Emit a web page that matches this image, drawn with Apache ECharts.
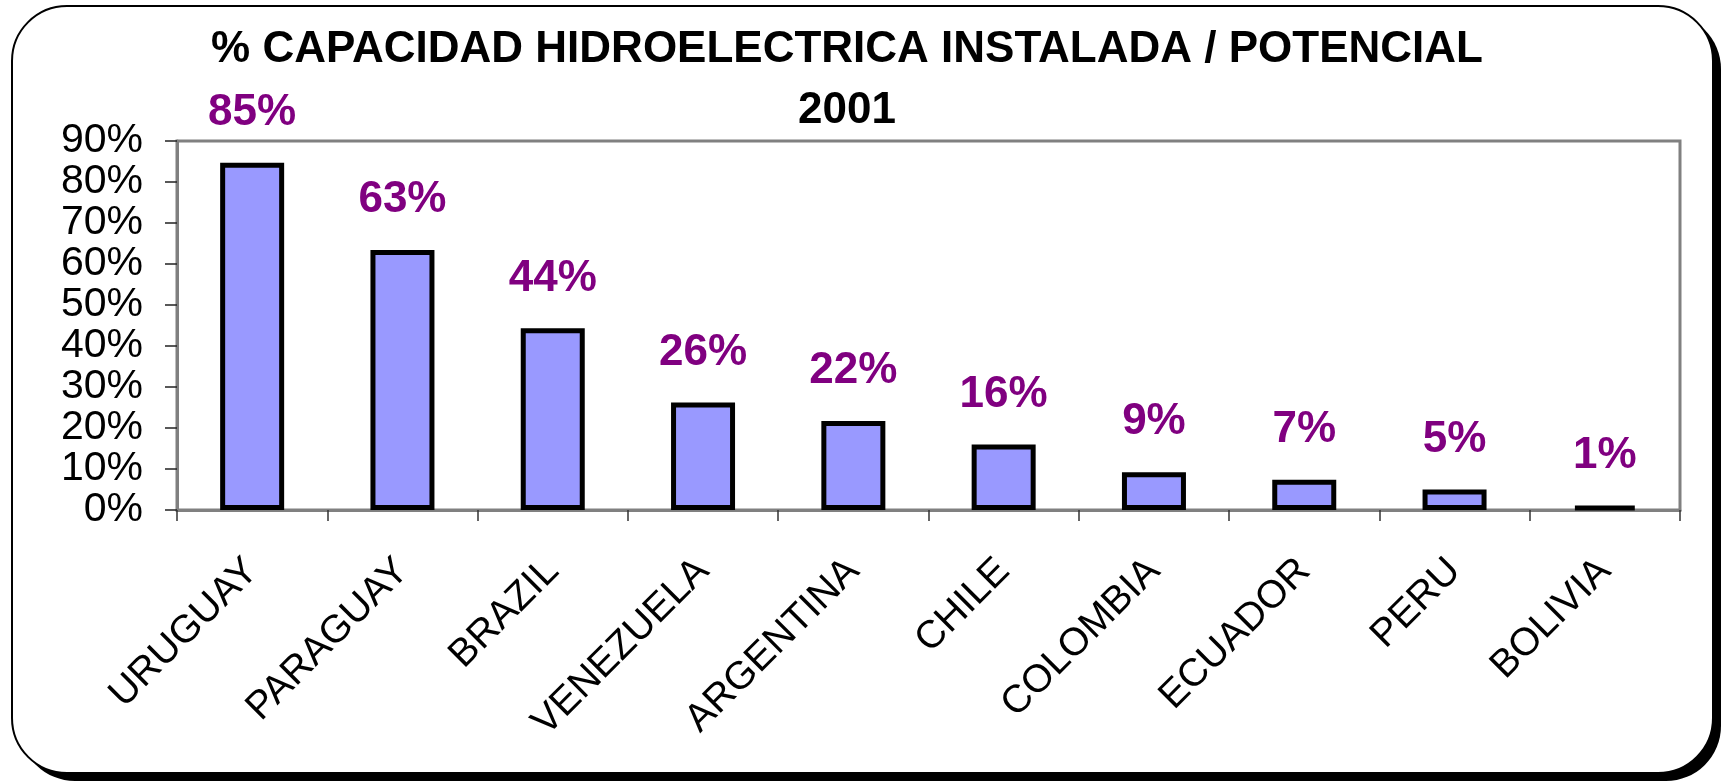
<!DOCTYPE html>
<html>
<head>
<meta charset="utf-8">
<script src="https://cdn.jsdelivr.net/npm/echarts@6/dist/echarts.min.js"></script>
<style>
  html, body { margin: 0; padding: 0; background: #fff; }
  #chart { width: 1721px; height: 783px; }
</style>
</head>
<body>
<div id="chart"></div>
<script>
// data
const countries = ['URUGUAY', 'PARAGUAY', 'BRAZIL', 'VENEZUELA', 'ARGENTINA', 'CHILE', 'COLOMBIA', 'ECUADOR', 'PERU', 'BOLIVIA'];
const capacity = [84.7, 63.4, 44.3, 26.2, 21.7, 16.0, 9.2, 7.4, 5.0, 1.0];
const yTicks = [0, 10, 20, 30, 40, 50, 60, 70, 80, 90];

const chart = echarts.init(document.getElementById('chart'));

chart.setOption({
  backgroundColor: '#fff',
  animation: false,
  textStyle: { fontFamily: 'Liberation Sans, Arial, sans-serif' },
  graphic: [
    // drop shadow of the outer frame
    {
      type: 'rect',
      z: -101,
      shape: { x: 20, y: 14, width: 1701, height: 767, r: 55 },
      style: { fill: '#000' },
    },
    {
      type: 'rect',
      z: -100,
      shape: { x: 12, y: 6, width: 1701, height: 767, r: 55 },
      style: { fill: '#fff', stroke: '#000', lineWidth: 2 },
    },
  ],
  title: {
    text: '% CAPACIDAD HIDROELECTRICA INSTALADA / POTENCIAL\n2001',
    left: 842,
    top: 14,
    textAlign: 'center',
    textStyle: {
      fontSize: 44,
      fontWeight: 'bold',
      color: '#000',
      lineHeight: 61,
    },
  },
  grid: {
    left: 177,
    right: 41,
    top: 141,
    bottom: 273,
    show: true,
    borderColor: '#808080',
    borderWidth: 3,
    backgroundColor: '#fff',
  },
  xAxis: {
    type: 'category',
    data: countries,
    axisLine: { lineStyle: { color: '#808080', width: 3 } },
    axisTick: { show: true, length: 11, lineStyle: { color: '#333', width: 1.5 } },
    axisLabel: {
      rotate: 45,
      margin: 55,
      fontSize: 39,
      color: '#000',
      interval: 0,
    },
  },
  yAxis: {
    type: 'value',
    min: yTicks[0],
    max: yTicks[yTicks.length - 1],
    interval: 10,
    splitLine: { show: false },
    axisLine: { show: true, lineStyle: { color: '#808080', width: 3 } },
    axisTick: { show: true, length: 12, lineStyle: { color: '#222', width: 1.5 } },
    axisLabel: {
      margin: 34,
      fontSize: 41,
      color: '#000',
      formatter: (v) => v + '%',
    },
  },
  series: [
    {
      type: 'bar',
      data: capacity,
      barWidth: 64,
      itemStyle: {
        color: '#9999ff',
        borderColor: '#000',
        borderWidth: 5,
      },
      label: {
        show: true,
        position: 'top',
        distance: 28,
        fontSize: 44,
        fontWeight: 'bold',
        color: '#800080',
        formatter: (p) => Math.round(p.value) + '%',
      },
    },
  ],
});
</script>
</body>
</html>
